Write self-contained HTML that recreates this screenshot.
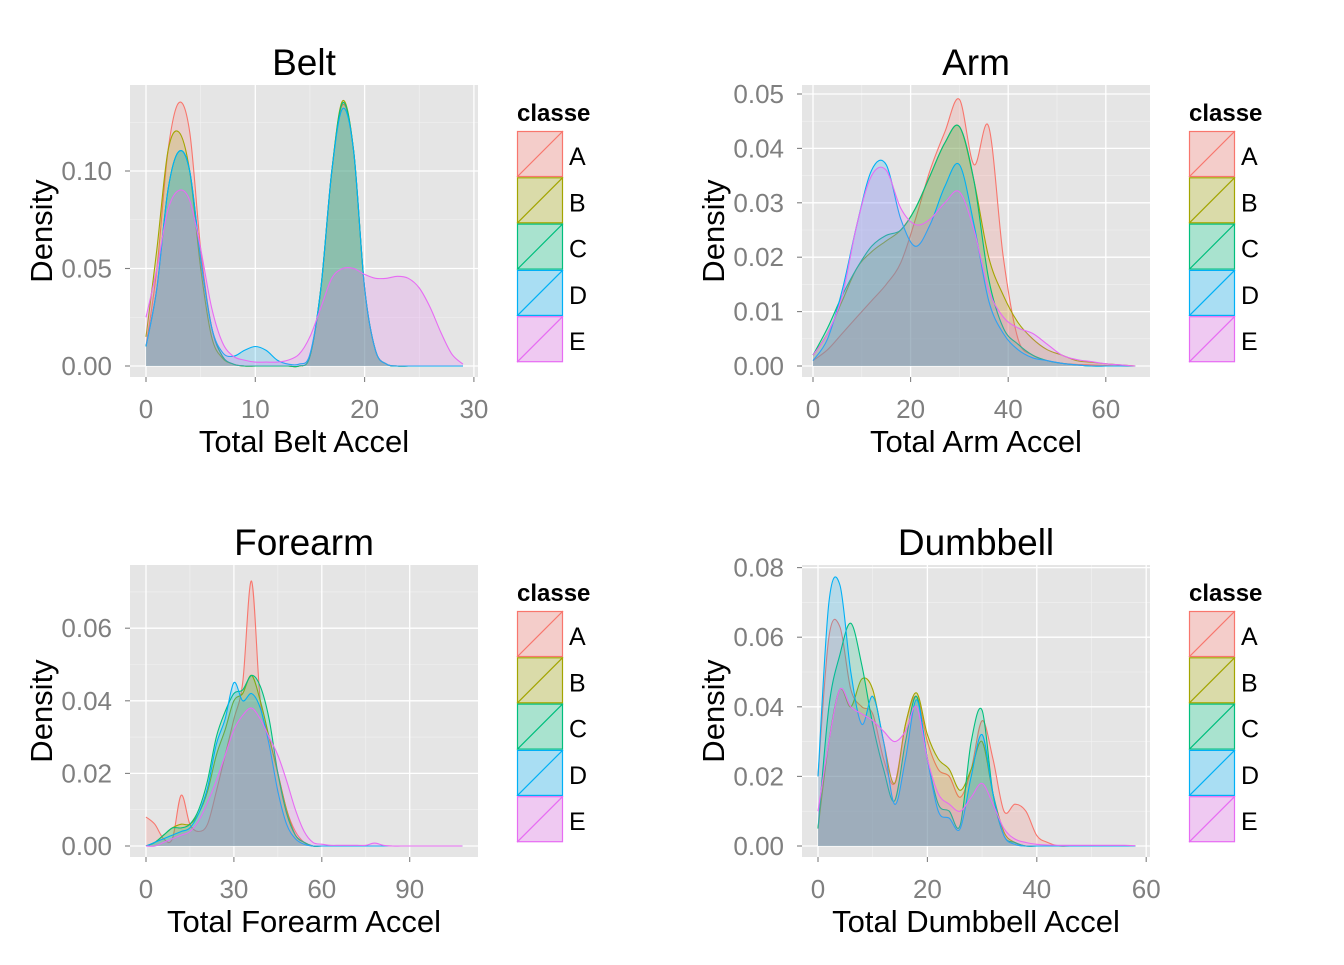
<!DOCTYPE html>
<html><head><meta charset="utf-8"><style>
body{margin:0;background:#fff}
svg text{font-family:"Liberation Sans",Arial,sans-serif}
</style></head><body>
<svg id="c" width="1344" height="960" viewBox="0 0 1344 960" xmlns="http://www.w3.org/2000/svg">
<rect width="1344" height="960" fill="#fff"/>
</svg>
<script>
const classes=["A","B","C","D","E"];
const colors=["#F8766D","#A3A500","#00BF7D","#00B0F6","#E76BF3"];
const beltX=Array.from({length:30},(_, i)=>i);
const beltA=[0.01,0.05,0.11,0.135,0.12,0.06,0.02,0.005,0.001,0,0,0,0,0,0,0.005,0.04,0.10,0.134,0.11,0.04,0.008,0.001,0,0,0,0,0,0,0];
const beltB=[0.015,0.06,0.11,0.12,0.10,0.05,0.015,0.004,0.001,0,0,0,0,0,0,0.005,0.04,0.10,0.136,0.11,0.04,0.008,0.001,0,0,0,0,0,0,0];
const beltC=[0.01,0.04,0.09,0.11,0.10,0.055,0.02,0.005,0.001,0,0,0,0,0,0,0.005,0.04,0.10,0.135,0.11,0.04,0.008,0.001,0,0,0,0,0,0,0];
const beltD=[0.01,0.04,0.09,0.11,0.10,0.055,0.02,0.007,0.005,0.008,0.01,0.008,0.003,0.001,0.001,0.006,0.04,0.10,0.132,0.11,0.04,0.008,0.001,0,0,0,0,0,0,0];
const beltE=[0.025,0.05,0.08,0.09,0.085,0.06,0.03,0.012,0.005,0.003,0.002,0.002,0.002,0.003,0.006,0.015,0.03,0.045,0.05,0.05,0.047,0.045,0.045,0.046,0.045,0.04,0.03,0.017,0.006,0.001];
const armX=Array.from({length:23},(_, i)=>i*3);
const armA=[0.001,0.003,0.006,0.009,0.012,0.015,0.019,0.027,0.036,0.043,0.049,0.037,0.044,0.02,0.005,0.002,0.001,0.0005,0.0003,0.0002,0.0001,0,0];
const armB=[0.002,0.006,0.012,0.018,0.021,0.023,0.025,0.029,0.035,0.041,0.044,0.034,0.020,0.013,0.008,0.005,0.003,0.002,0.001,0.0007,0.0004,0.0002,0];
const armC=[0.002,0.007,0.013,0.018,0.022,0.024,0.025,0.029,0.035,0.041,0.044,0.034,0.016,0.007,0.004,0.002,0.001,0.0005,0.0002,0,0,0,0];
const armD=[0.001,0.005,0.014,0.026,0.036,0.037,0.027,0.022,0.026,0.033,0.037,0.026,0.012,0.006,0.003,0.0015,0.001,0.0005,0.0002,0,0,0,0];
const armE=[0.002,0.006,0.013,0.026,0.035,0.036,0.029,0.026,0.027,0.030,0.032,0.025,0.014,0.009,0.007,0.006,0.004,0.002,0.0012,0.0008,0.0004,0.0002,0];
const foreX=Array.from({length:37},(_, i)=>i*3);
const pad=(a,n)=>a.concat(Array(n-a.length).fill(0));
const foreA=pad([0.008,0.006,0.002,0.002,0.014,0.006,0.004,0.006,0.015,0.025,0.035,0.045,0.073,0.040,0.030,0.020,0.010,0.004,0.001],37);
const foreB=pad([0,0.001,0.003,0.005,0.006,0.006,0.009,0.015,0.025,0.032,0.040,0.042,0.047,0.040,0.030,0.020,0.010,0.003,0.001],37);
const foreC=pad([0,0.001,0.003,0.005,0.005,0.006,0.010,0.018,0.030,0.037,0.042,0.043,0.047,0.044,0.035,0.020,0.009,0.003,0.001],37);
const foreD=pad([0,0.001,0.002,0.003,0.004,0.005,0.009,0.016,0.028,0.035,0.045,0.040,0.042,0.038,0.028,0.015,0.006,0.002,0.0005],37);
const foreE=pad([0,0,0.001,0.002,0.003,0.004,0.007,0.012,0.018,0.025,0.032,0.036,0.038,0.035,0.030,0.025,0.018,0.010,0.004,0.001,0.0005,0.0002,0.0002,0.0002,0.0002,0.0002,0.0008,0.0002],37);
const dumbX=Array.from({length:30},(_, i)=>i*2);
const dumbA=pad([0.02,0.06,0.063,0.045,0.040,0.038,0.025,0.018,0.035,0.043,0.030,0.022,0.020,0.014,0.022,0.036,0.025,0.010,0.012,0.010,0.003,0.001],30);
const dumbB=pad([0.005,0.03,0.045,0.040,0.048,0.045,0.030,0.018,0.035,0.044,0.032,0.025,0.022,0.016,0.022,0.030,0.015,0.004,0.001],30);
const dumbC=pad([0.005,0.04,0.055,0.064,0.052,0.035,0.022,0.013,0.030,0.043,0.025,0.012,0.010,0.006,0.030,0.039,0.015,0.003,0.001],30);
const dumbD=pad([0.02,0.07,0.075,0.05,0.035,0.043,0.030,0.012,0.025,0.042,0.025,0.010,0.008,0.005,0.020,0.032,0.015,0.003,0.0005],30);
const dumbE=pad([0.01,0.03,0.045,0.040,0.038,0.036,0.033,0.030,0.033,0.040,0.025,0.015,0.012,0.010,0.014,0.018,0.012,0.005,0.002,0.001,0.0005,0.0003,0.0002,0.0002,0.0002,0.0002,0.0002,0.0002,0.0002,0.0001],30);
const xTicksBelt=[0,10,20,30], yTicksBelt=[0,0.05,0.10], yLabBelt=["0.00","0.05","0.10"];
const xTicksArm=[0,20,40,60], yTicksArm=[0,0.01,0.02,0.03,0.04,0.05], yLabArm=["0.00","0.01","0.02","0.03","0.04","0.05"];
const xTicksFore=[0,30,60,90], yTicksFore=[0,0.02,0.04,0.06], yLabFore=["0.00","0.02","0.04","0.06"];
const xTicksDumb=[0,20,40,60], yTicksDumb=[0,0.02,0.04,0.06,0.08], yLabDumb=["0.00","0.02","0.04","0.06","0.08"];

const svg=document.getElementById('c');
const NS="http://www.w3.org/2000/svg";
function mk(tag,attrs,parent){const e=document.createElementNS(NS,tag);for(const k in attrs)e.setAttribute(k,attrs[k]);(parent||svg).appendChild(e);return e;}
function smooth(pts){let d="M"+pts[0][0]+","+pts[0][1];for(let i=0;i<pts.length-1;i++){const p0=pts[Math.max(0,i-1)],p1=pts[i],p2=pts[i+1],p3=pts[Math.min(pts.length-1,i+2)];
const c1=[p1[0]+(p2[0]-p0[0])/6,p1[1]+(p2[1]-p0[1])/6],c2=[p2[0]-(p3[0]-p1[0])/6,p2[1]-(p3[1]-p1[1])/6];d+=" C"+c1+" "+c2+" "+p2;}return d;}

function panel(cfg){
 const g=mk('g',{});
 
 
 const X=v=>cfg.x0px+(v-cfg.xv0)*cfg.xs, Y=v=>cfg.y0px-v*cfg.ys;
 mk('rect',{x:cfg.L,y:cfg.T,width:cfg.R-cfg.L,height:cfg.B-cfg.T,fill:'#E5E5E5'},g);
 const xt=cfg.xt,yt=cfg.yt;
 for(let i=0;i<xt.length-1;i++){const m=(xt[i]+xt[i+1])/2;mk('line',{x1:X(m),x2:X(m),y1:cfg.T,y2:cfg.B,stroke:'#F2F2F2','stroke-width':0.6},g);}
 for(let i=0;i<yt.length;i++){const m=yt[i]+(yt[1]-yt[0])/2;if(Y(m)>cfg.T)mk('line',{x1:cfg.L,x2:cfg.R,y1:Y(m),y2:Y(m),stroke:'#F2F2F2','stroke-width':0.6},g);}
 xt.forEach(v=>mk('line',{x1:X(v),x2:X(v),y1:cfg.T,y2:cfg.B,stroke:'#fff','stroke-width':1.3},g));
 yt.forEach(v=>mk('line',{x1:cfg.L,x2:cfg.R,y1:Y(v),y2:Y(v),stroke:'#fff','stroke-width':1.3},g));
 cfg.series.forEach((s,k)=>{
  const pts=cfg.xs_.map((x,i)=>[+X(x).toFixed(1),+Y(s[i]).toFixed(1)]);
  const line=smooth(pts);
  const a=mk('path',{d:line+" L"+pts[pts.length-1][0]+","+Y(0)+" L"+pts[0][0]+","+Y(0)+"Z",fill:colors[k],'fill-opacity':0.2,stroke:'none'},g);
  
  
  mk('path',{d:line,fill:'none',stroke:colors[k],'stroke-width':1.1},g);
 });
 xt.forEach(v=>{mk('line',{x1:X(v),x2:X(v),y1:cfg.B,y2:cfg.B+5,stroke:'#7F7F7F','stroke-width':1.1},g);
  const t=mk('text',{x:X(v),y:cfg.B+41,'text-anchor':'middle','font-size':26,fill:'#7F7F7F'},g);t.textContent=v;});
 yt.forEach((v,i)=>{mk('line',{x1:cfg.L-5,x2:cfg.L,y1:Y(v),y2:Y(v),stroke:'#7F7F7F','stroke-width':1.1},g);
  const t=mk('text',{x:cfg.L-18,y:Y(v)+9,'text-anchor':'end','font-size':26,fill:'#7F7F7F'},g);t.textContent=cfg.yl[i];});
 const cx=(cfg.L+cfg.R)/2;
 let t=mk('text',{x:cx,y:cfg.T-10,'text-anchor':'middle','font-size':37,fill:'#000'},g);t.textContent=cfg.title;
 
 t=mk('text',{x:cx,y:cfg.B+75,'text-anchor':'middle','font-size':31,fill:'#000'},g);t.textContent=cfg.xlab;
 
 const ym=(cfg.T+cfg.B)/2;
 t=mk('text',{x:cfg.ylx,y:ym,'text-anchor':'middle','font-size':31,fill:'#000',transform:`rotate(-90 ${cfg.ylx} ${ym})`},g);t.textContent="Density";
 
 const lg=mk('g',{},g);
 
 
 t=mk('text',{x:cfg.lx,y:cfg.T+36,'font-size':24,'font-weight':'bold',fill:'#000'},lg);t.textContent="classe";
 classes.forEach((c,k)=>{const y0=cfg.T+46+k*46.3;
  mk('rect',{x:cfg.lx,y:y0,width:46,height:46,fill:'#F2F2F2'},lg);
  const r=mk('rect',{x:cfg.lx+0.5,y:y0+0.5,width:45,height:45,fill:colors[k],'fill-opacity':0.3,stroke:colors[k],'stroke-width':1.2},lg);
  
  mk('line',{x1:cfg.lx,y1:y0+46,x2:cfg.lx+46,y2:y0,stroke:colors[k],'stroke-width':1.2},lg);
  const tt=mk('text',{x:cfg.lx+52,y:y0+34,'font-size':25,fill:'#000'},lg);tt.textContent=c;});
}
panel({name:'belt',title:'Belt',xlab:'Total Belt Accel',L:130,R:478,T:85,B:377,x0px:146,xv0:0,xs:10.93,y0px:366,ys:1950,xt:xTicksBelt,yt:yTicksBelt,yl:yLabBelt,xs_:beltX,series:[beltA,beltB,beltC,beltD,beltE],ylx:52,lx:517});
panel({name:'arm',title:'Arm',xlab:'Total Arm Accel',L:802,R:1150,T:85,B:377,x0px:813,xv0:0,xs:4.88,y0px:366,ys:5440,xt:xTicksArm,yt:yTicksArm,yl:yLabArm,xs_:armX,series:[armA,armB,armC,armD,armE],ylx:724,lx:1189});
panel({name:'forearm',title:'Forearm',xlab:'Total Forearm Accel',L:130,R:478,T:565,B:857,x0px:146,xv0:0,xs:2.93,y0px:846,ys:3630,xt:xTicksFore,yt:yTicksFore,yl:yLabFore,xs_:foreX,series:[foreA,foreB,foreC,foreD,foreE],ylx:52,lx:517});
panel({name:'dumbbell',title:'Dumbbell',xlab:'Total Dumbbell Accel',L:802,R:1150,T:565,B:857,x0px:818,xv0:0,xs:5.47,y0px:846,ys:3480,xt:xTicksDumb,yt:yTicksDumb,yl:yLabDumb,xs_:dumbX,series:[dumbA,dumbB,dumbC,dumbD,dumbE],ylx:724,lx:1189});
</script>
</body></html>
